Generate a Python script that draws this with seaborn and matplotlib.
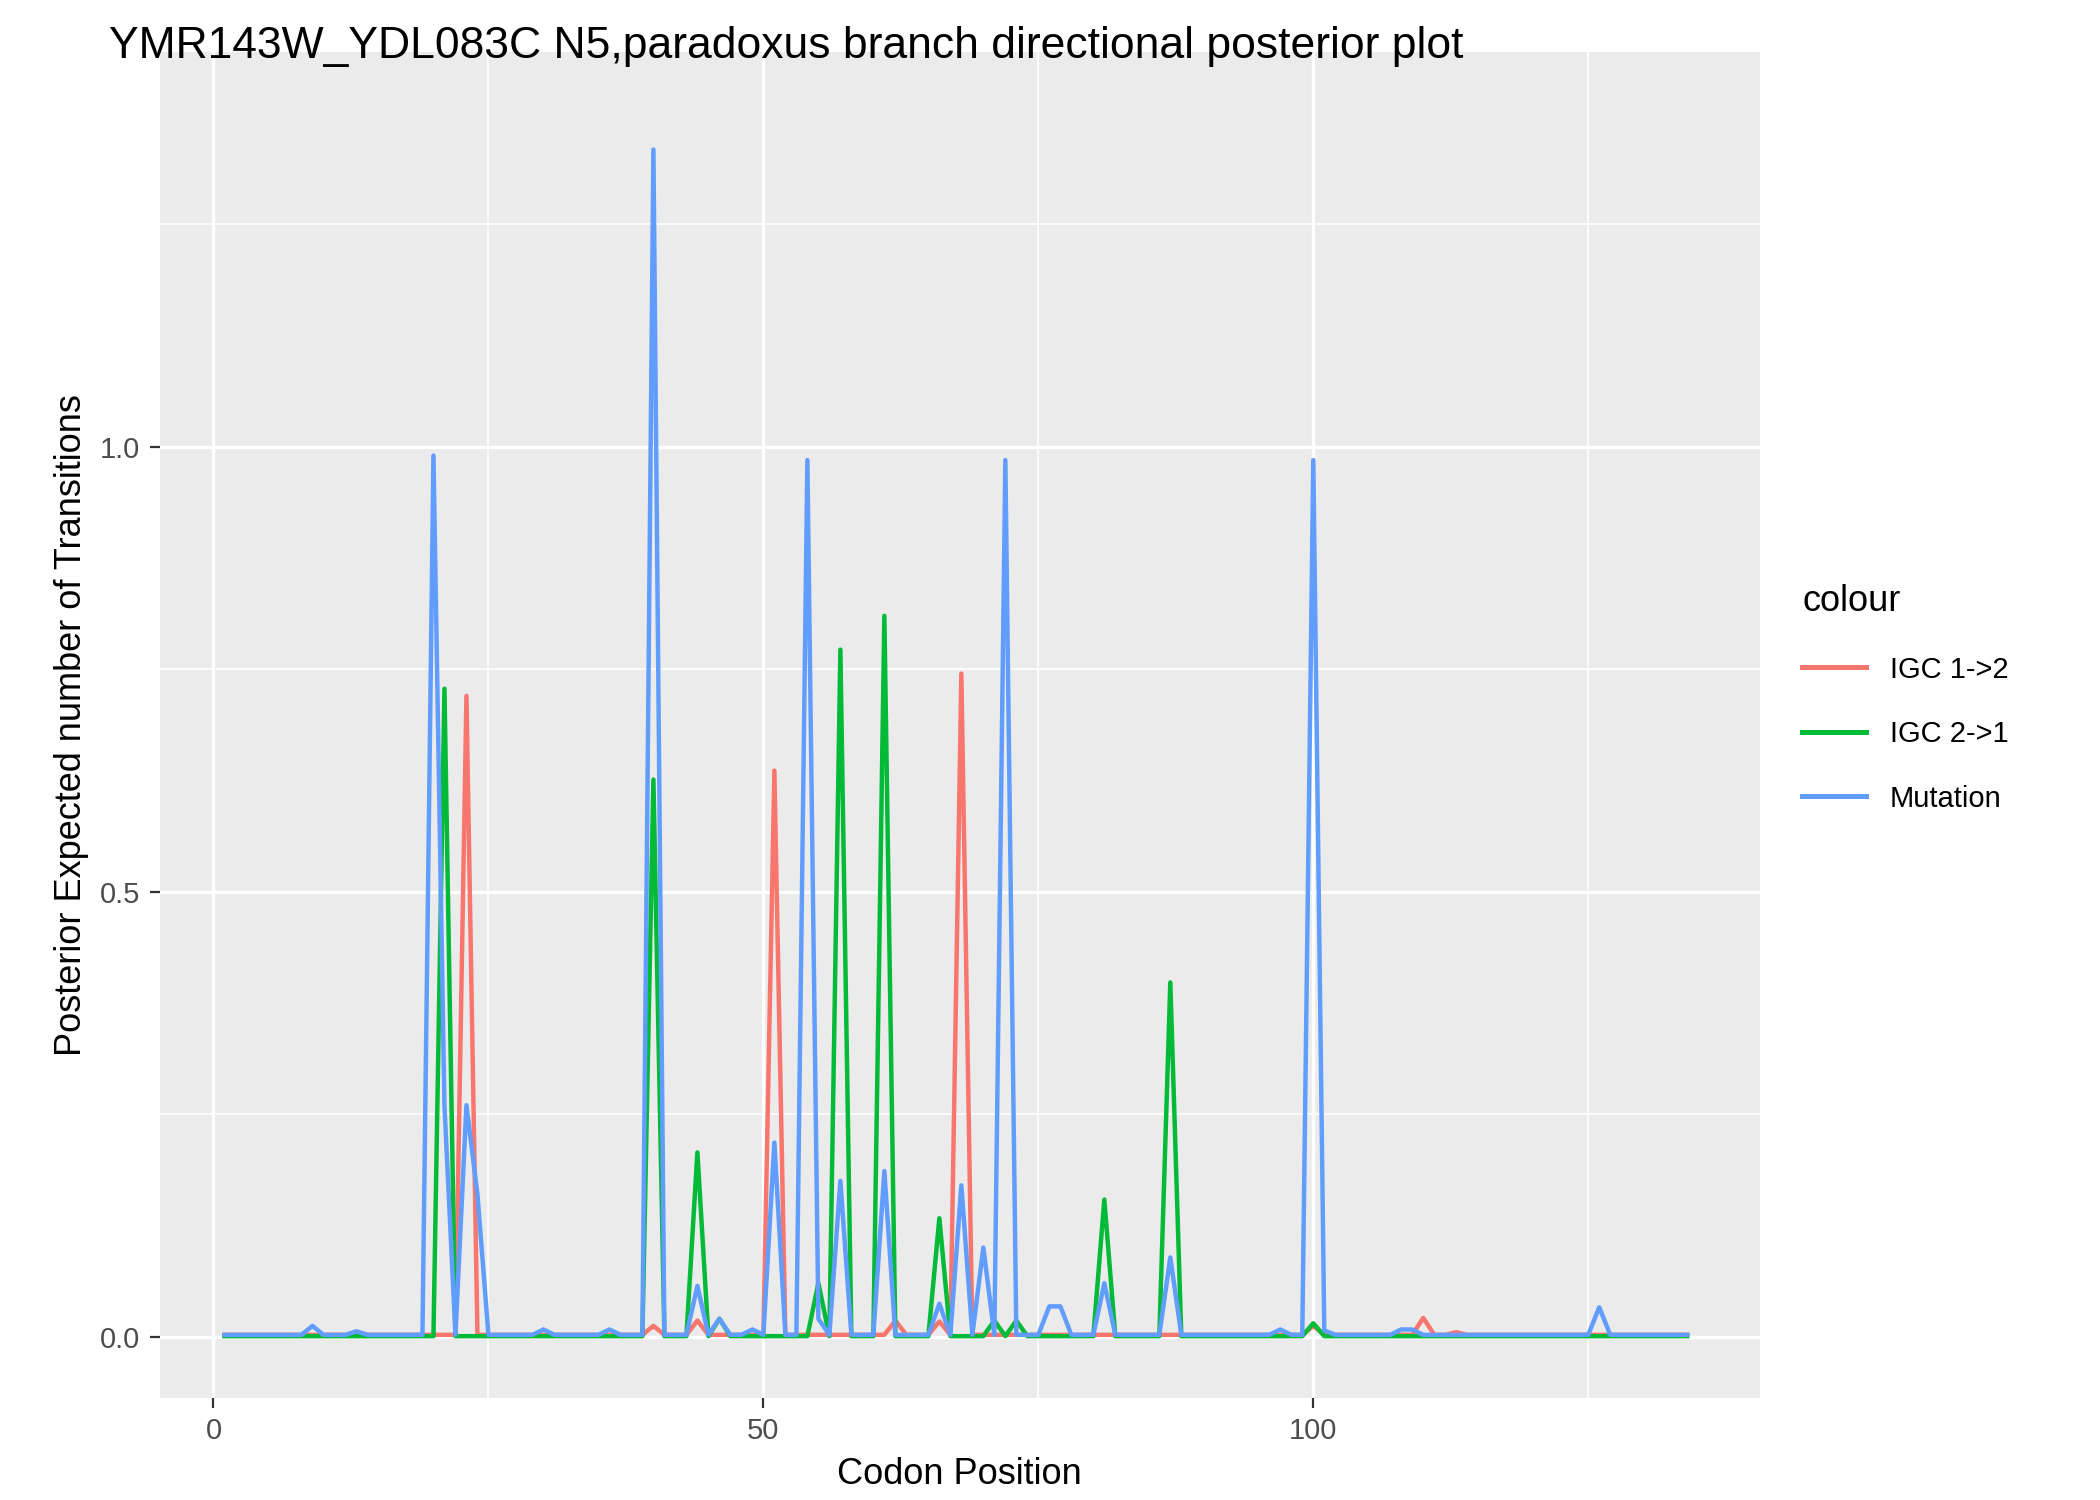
import numpy as np
import pandas as pd
import matplotlib
matplotlib.use("Agg")
import matplotlib.pyplot as plt
import seaborn as sns
from matplotlib.ticker import FixedLocator

positions = list(range(1, 135))
base = 0.002
igc12_peaks = {23: 0.72, 44: 0.018, 51: 0.636, 62: 0.018, 66: 0.017, 68: 0.745,
               100: 0.012, 110: 0.021, 113: 0.005, 40: 0.012}
igc21_peaks = {21: 0.728, 40: 0.626, 44: 0.207, 46: 0.02, 55: 0.06, 57: 0.772,
               61: 0.81, 66: 0.133, 71: 0.018, 73: 0.018, 81: 0.154, 87: 0.398,
               100: 0.015}
mutation_peaks = {9: 0.012, 13: 0.006, 20: 0.99, 21: 0.26, 23: 0.26, 24: 0.16,
                  30: 0.008, 36: 0.008, 40: 1.334, 44: 0.057, 46: 0.02, 49: 0.008,
                  51: 0.218, 54: 0.985, 55: 0.02, 57: 0.175, 61: 0.186, 66: 0.037,
                  68: 0.17, 70: 0.1, 72: 0.985, 76: 0.034, 77: 0.034, 81: 0.06,
                  87: 0.089, 97: 0.008, 100: 0.985, 101: 0.007, 108: 0.008,
                  109: 0.008, 126: 0.033}

igc12 = [igc12_peaks.get(p, base) for p in positions]
igc21 = [igc21_peaks.get(p, 0.0005) for p in positions]
mutation = [mutation_peaks.get(p, base) for p in positions]

df = pd.DataFrame({
    "pos": positions * 3,
    "value": igc12 + igc21 + mutation,
    "colour": ["IGC 1->2"] * len(positions) + ["IGC 2->1"] * len(positions) + ["Mutation"] * len(positions),
})

plt.rcParams['font.family'] = ['Liberation Sans', 'DejaVu Sans']
fig = plt.figure(figsize=(10.5, 7.5), dpi=200)
ax = fig.add_axes([0.076, 0.068, 0.762, 0.897])
ax.set_facecolor("#EBEBEB")
palette = {"IGC 1->2": "#F8766D", "IGC 2->1": "#00BA38", "Mutation": "#619CFF"}
sns.lineplot(data=df, x="pos", y="value", hue="colour", palette=palette, ax=ax,
             linewidth=1.6, legend=True)

ax.set_xlim(-4.9, 140.6)
ax.set_ylim(-0.069, 1.443)
ax.xaxis.set_major_locator(FixedLocator([0, 50, 100]))
ax.xaxis.set_minor_locator(FixedLocator([25, 75, 125]))
ax.yaxis.set_major_locator(FixedLocator([0, 0.5, 1.0]))
ax.yaxis.set_minor_locator(FixedLocator([0.25, 0.75, 1.25]))
ax.set_yticklabels(["0.0", "0.5", "1.0"])
ax.grid(which="major", color="white", linewidth=1.2)
ax.grid(which="minor", color="white", linewidth=0.6)
ax.set_axisbelow(True)
for s in ax.spines.values():
    s.set_visible(False)
ax.tick_params(which="major", length=3.5, color="#333333", labelsize=10.5, labelcolor="#4D4D4D")
ax.tick_params(which="minor", length=0)
ax.set_xlabel("Codon Position", fontsize=13)
ax.set_ylabel("Posterior Expected number of Transitions", fontsize=13)
fig.text(0.052, 0.969, "YMR143W_YDL083C N5,paradoxus branch directional posterior plot",
         fontsize=16, va="center", ha="left")

leg = ax.legend(title="colour", loc="center left", bbox_to_anchor=(1.01, 0.52),
                frameon=False, fontsize=10.5, title_fontsize=13, handlelength=2.2,
                labelspacing=1.25, alignment="left")
for h in leg.get_lines():
    h.set_linewidth(1.8)

fig.savefig("out.png", dpi=200)
